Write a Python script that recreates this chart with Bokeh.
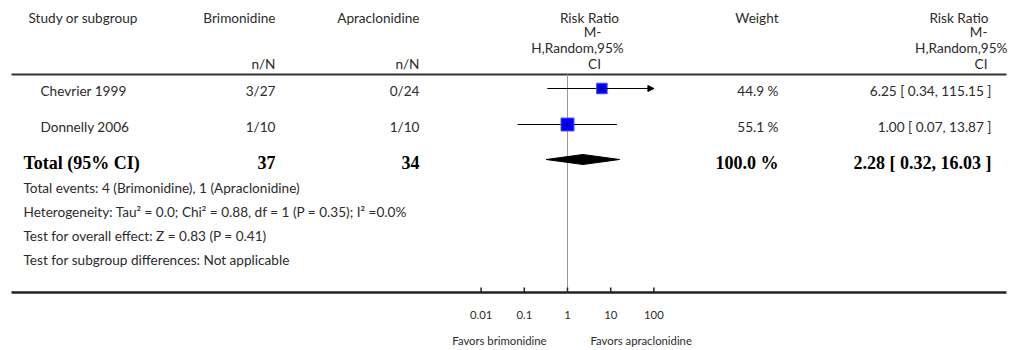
from bokeh.plotting import figure
from bokeh.models import Range1d, LogScale, ColumnDataSource, Arrow, NormalHead
from bokeh.core.properties import value
from bokeh.embed import file_html
from bokeh.resources import INLINE

# ---- study data -------------------------------------------------------
studies = ["Chevrier 1999", "Donnelly 2006"]
brim_events = [3, 1]
brim_total = [27, 10]
apra_events = [0, 1]
apra_total = [24, 10]
risk_ratio = [6.25, 1.00]
ci_low = [0.34, 0.07]
ci_high = [115.15, 13.87]
weight = [44.9, 55.1]

# ---- pooled (random effects) estimate ----------------------------------
pooled_rr = 2.28
pooled_low = 0.32
pooled_high = 16.03

# ---- summary statistics --------------------------------------------------
tau2 = "0.0"
chi2 = "0.88"
df_het = 1
p_het = "0.35"
i2 = "0.0%"
z_overall = "0.83"
p_overall = "0.41"

# ---- risk-ratio axis -----------------------------------------------------
axis_ticks = [0.01, 0.1, 1, 10, 100]
axis_tick_labels = ["0.01", "0.1", "1", "10", "100"]
favors_left = "Favors brimonidine"
favors_right = "Favors apraclonidine"

# ---- page geometry (pixels) ----------------------------------------------
W, H = 1021, 350
NULL_PX = 567.0          # where RR = 1 sits
DECADE_PX = 43.2         # width of one factor of ten
RULE_X0, RULE_X1 = 11, 1006
HEADER_RULE_Y = 74
AXIS_Y = 292
ROW_Y = [88, 124]
TOTAL_Y = 159
FOOT_Y = [187, 211, 235, 259]

TEXT = "#2b2b2b"
FONT = "Lato"
SERIF = "Liberation Serif"
BODY = "13.6px"
BOLD = "18px"
SMALL = "11.3px"

lo_exp = -NULL_PX / DECADE_PX
hi_exp = (W - NULL_PX) / DECADE_PX

p = figure(width=W, height=H,
           x_range=Range1d(0, W), y_range=Range1d(H, 0),
           toolbar_location=None, output_backend="svg",
           x_axis_location=None, y_axis_location=None,
           min_border=0)
p.outline_line_color = None
p.xgrid.visible = False
p.ygrid.visible = False
p.background_fill_color = "white"
p.border_fill_color = "white"
p.extra_x_ranges = {"rr": Range1d(10 ** lo_exp, 10 ** hi_exp)}
p.extra_x_scales = {"rr": LogScale()}


def put(text, x, y, align="left", size=BODY, font=FONT, style="normal",
        color=TEXT, rng="default"):
    xs = x if isinstance(x, list) else [x]
    ys = y if isinstance(y, list) else [y] * len(xs)
    ts = text if isinstance(text, list) else [text]
    p.text(x=xs, y=ys, text=ts, text_align=align, text_baseline="middle",
           text_font=value(font), text_font_size=size, text_font_style=style,
           text_color=color, x_range_name=rng)


# ---- column headers --------------------------------------------------------
put("Study or subgroup", 28, 17)
put("Brimonidine", 275, 17, align="right")
put("Apraclonidine", 419, 17, align="right")
put("n/N", 275, 63, align="right")
put("n/N", 419, 63, align="right")
rr_head = ["Risk Ratio", "M-", "H,Random,95%", "CI"]
rr_head_y = [17, 31, 47, 63]
put(rr_head, [589, 592, 577, 594], rr_head_y, align="center")
put("Weight", 778, 17, align="right")
put(rr_head, [988, 987, 1007, 987], rr_head_y, align="right")

# ---- rules -------------------------------------------------------------------
p.segment(x0=[RULE_X0], x1=[RULE_X1], y0=[HEADER_RULE_Y], y1=[HEADER_RULE_Y],
          line_color="#333333", line_width=2)
p.segment(x0=[RULE_X0], x1=[RULE_X1], y0=[AXIS_Y], y1=[AXIS_Y],
          line_color="#222222", line_width=2.5)

# line of no effect
p.segment(x0=[1], x1=[1], y0=[HEADER_RULE_Y], y1=[AXIS_Y],
          line_color="#9a9a9a", line_width=1, x_range_name="rr")

# ---- study rows -----------------------------------------------------------
row_text_y = [y + 2 for y in ROW_Y]
put(studies, [40] * len(studies), row_text_y)
put([f"{e}/{n}" for e, n in zip(brim_events, brim_total)],
    [275] * len(studies), row_text_y, align="right")
put([f"{e}/{n}" for e, n in zip(apra_events, apra_total)],
    [419] * len(studies), row_text_y, align="right")
put([f"{w:.1f} %" for w in weight], [778] * len(studies),
    row_text_y, align="right")
put([f"{r:.2f} [ {l:.2f}, {h:.2f} ]" for r, l, h in zip(risk_ratio, ci_low, ci_high)],
    [991] * len(studies), row_text_y, align="right")

axis_max = axis_ticks[-1]
axis_min = axis_ticks[0]
seg = ColumnDataSource(dict(
    x0=[max(l, axis_min) for l in ci_low],
    x1=[min(h, axis_max) for h in ci_high],
    y=ROW_Y))
p.segment(x0="x0", x1="x1", y0="y", y1="y", source=seg,
          line_color="black", line_width=1, x_range_name="rr")

clipped = [i for i, h in enumerate(ci_high) if h > axis_max]
if clipped:
    arr_src = ColumnDataSource(dict(
        xs=[risk_ratio[i] for i in clipped],
        xe=[axis_max] * len(clipped),
        y=[ROW_Y[i] for i in clipped]))
    p.add_layout(Arrow(x_start="xs", y_start="y", x_end="xe", y_end="y",
                       source=arr_src, line_color="black", line_width=1,
                       end=NormalHead(size=6, fill_color="black",
                                      line_color="black", line_width=1),
                       x_range_name="rr"))

p.scatter(x=risk_ratio, y=ROW_Y, marker="square",
          size=[w * 0.235 for w in weight],
          fill_color="#0000ff", line_color="#4d4dff", line_width=1,
          x_range_name="rr")
p.scatter(x=risk_ratio, y=ROW_Y, marker="square", size=2,
          fill_color="black", line_color=None, x_range_name="rr")

# ---- pooled row -------------------------------------------------------------
total_text_y = TOTAL_Y + 3
put("Total (95% CI)", 23, total_text_y, size=BOLD, font=SERIF, style="bold",
    color="black")
put(str(sum(brim_total)), 275, total_text_y, align="right", size=BOLD,
    font=SERIF, style="bold", color="black")
put(str(sum(apra_total)), 419, total_text_y, align="right", size=BOLD,
    font=SERIF, style="bold", color="black")
put(f"{sum(weight):.1f} %", 778, total_text_y, align="right", size=BOLD,
    font=SERIF, style="bold", color="black")
put(f"{pooled_rr:.2f} [ {pooled_low:.2f}, {pooled_high:.2f} ]", 991,
    total_text_y, align="right", size=BOLD, font=SERIF, style="bold",
    color="black")

p.patch(x=[pooled_low, pooled_rr, pooled_high, pooled_rr],
        y=[TOTAL_Y, TOTAL_Y - 5, TOTAL_Y, TOTAL_Y + 5],
        fill_color="black", line_color="black", line_width=1,
        x_range_name="rr")

# ---- footnotes ----------------------------------------------------------------
foot = [
    f"Total events: {sum(brim_events)} (Brimonidine), {sum(apra_events)} (Apraclonidine)",
    f"Heterogeneity: Tau\u00b2 = {tau2}; Chi\u00b2 = {chi2}, df = {df_het} (P = {p_het}); I\u00b2 ={i2}",
    f"Test for overall effect: Z = {z_overall} (P = {p_overall})",
    "Test for subgroup differences: Not applicable",
]
put(foot, [23] * len(foot), FOOT_Y)

# ---- axis ticks and labels ----------------------------------------------------
p.segment(x0=axis_ticks, x1=axis_ticks, y0=[AXIS_Y - 5] * len(axis_ticks),
          y1=[AXIS_Y] * len(axis_ticks), line_color="#222222", line_width=1.5,
          x_range_name="rr")
put(axis_tick_labels, axis_ticks, 314, align="center", size=SMALL, rng="rr")
put(favors_left, NULL_PX - 21, 340, align="right", size=SMALL)
put(favors_right, NULL_PX + 23, 340, align="left", size=SMALL)

open("out.html", "w").write(file_html(p, INLINE))
